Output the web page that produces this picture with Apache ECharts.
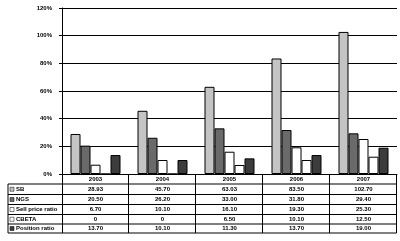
<!DOCTYPE html>
<html><head><meta charset="utf-8">
<script src="https://cdn.jsdelivr.net/npm/echarts@6/dist/echarts.min.js"></script>
<style>html,body{margin:0;padding:0;background:#fff}#c{width:400px;height:241px}</style>
</head><body><div id="c"></div>
<script>
const categories = ['2003', '2004', '2005', '2006', '2007'];
const seriesNames = ['SB', 'NGS', 'Sell price ratio', 'CBETA', 'Position ratio'];
const sbValues = [28.93, 45.70, 63.03, 83.50, 102.70];
const ngsValues = [20.50, 26.20, 33.00, 31.80, 29.40];
const sellValues = [6.70, 10.10, 16.10, 19.30, 25.30];
const cbetaValues = [0, 0, 6.50, 10.10, 12.50];
const positionValues = [13.70, 10.10, 11.30, 13.70, 19.00];
const yTicks = [0, 20, 40, 60, 80, 100, 120];

const seriesData = [sbValues, ngsValues, sellValues, cbetaValues, positionValues];
const colors = ['#c4c4c4', '#6a6a6a', '#ffffff', '#ffffff', '#3c3c3c'];

const chart = echarts.init(document.getElementById('c'), null, {renderer: 'canvas'});
const font = 'Liberation Sans';
const L = 62, R = 3, T = 8, B = 67;
const W = 400 - L - R;
const band = W / categories.length;
const axisY = 241 - B;
const rowEdges = [184, 194.5, 204.5, 214.5, 224, 233];

const graphics = [];
const tableTop = axisY;
graphics.push({type: 'line', shape: {x1: L + 0.5, y1: tableTop, x2: L + 0.5, y2: rowEdges[5]}, style: {stroke: '#000', lineWidth: 1}});
for (let i = 1; i <= categories.length; i++) {
  const x = Math.round(L + band * i) - 0.5;
  graphics.push({type: 'line', shape: {x1: x, y1: tableTop, x2: x, y2: rowEdges[5]}, style: {stroke: '#000', lineWidth: 1}});
}
graphics.push({type: 'line', shape: {x1: 8, y1: rowEdges[0], x2: 8, y2: rowEdges[5]}, style: {stroke: '#000', lineWidth: 1}});
rowEdges.forEach(y => {
  graphics.push({type: 'line', shape: {x1: 8, y1: y, x2: 400 - R - 0.5, y2: y}, style: {stroke: '#000', lineWidth: 1}});
});
categories.forEach((c, i) => {
  graphics.push({type: 'text', x: L + band * (i + 0.5), y: (axisY + rowEdges[0]) / 2 + 0.5, style: {text: c, fontFamily: font, fontSize: 6, fontWeight: 'bold', fill: '#000', verticalAlign: 'middle', align: 'center'}});
});
seriesNames.forEach((name, r) => {
  const yc = (rowEdges[r] + rowEdges[r + 1]) / 2;
  graphics.push({type: 'rect', shape: {x: 10, y: yc - 2, width: 4, height: 4}, style: {fill: colors[r], stroke: '#000', lineWidth: 0.5}});
  graphics.push({type: 'text', x: 16, y: yc, style: {text: name, fontFamily: font, fontSize: 6, fontWeight: 'bold', fill: '#000', verticalAlign: 'middle', align: 'left'}});
  seriesData[r].forEach((v, c) => {
    graphics.push({type: 'text', x: L + band * (c + 0.5), y: yc, style: {text: v === 0 ? '0' : v.toFixed(2), fontFamily: font, fontSize: 6, fontWeight: 'bold', fill: '#000', verticalAlign: 'middle', align: 'center'}});
  });
});

chart.setOption({
  animation: false,
  backgroundColor: '#fff',
  grid: {left: L, right: R, top: T, bottom: B, containLabel: false, outerBoundsMode: 'none'},
  xAxis: {
    type: 'category', data: categories,
    axisLine: {lineStyle: {color: '#000', width: 1}},
    axisTick: {show: false},
    axisLabel: {show: false}
  },
  yAxis: {
    type: 'value', min: yTicks[0], max: yTicks[yTicks.length - 1], interval: 20,
    axisLine: {show: true, lineStyle: {color: '#000', width: 1}},
    axisTick: {show: true, length: 3, lineStyle: {color: '#000'}},
    axisLabel: {formatter: '{value}%', fontFamily: font, fontSize: 6, fontWeight: 'bold', color: '#000', margin: 10},
    splitLine: {lineStyle: {color: '#000', width: 1}}
  },
  series: seriesNames.map((n, i) => ({
    name: n, type: 'bar', data: seriesData[i],
    barWidth: 10, barGap: '0%', barCategoryGap: '25%',
    itemStyle: {color: colors[i], borderColor: '#000', borderWidth: 1}
  })),
  graphic: graphics
});
</script></body></html>
